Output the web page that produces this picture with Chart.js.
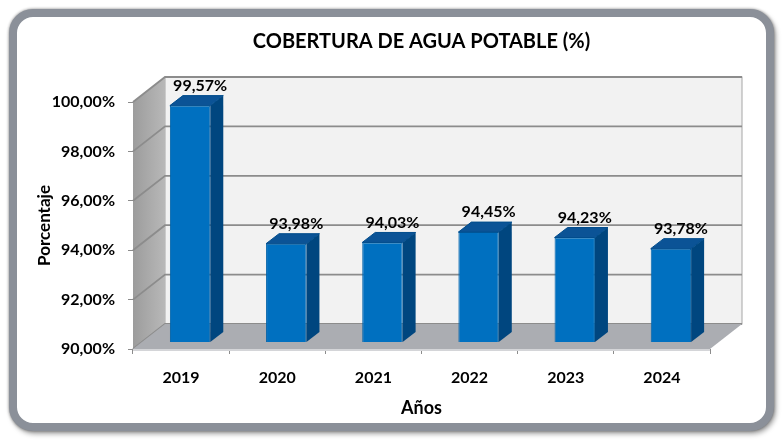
<!DOCTYPE html>
<html>
<head>
<meta charset="utf-8">
<script src="https://cdn.jsdelivr.net/npm/chart.js@4.4.1/dist/chart.umd.min.js"></script>
<style>
    body { margin: 0; background: #fff; }
    #wrap { position: relative; width: 784px; height: 444px; overflow: hidden; }
    #frame {
        position: absolute; left: 9px; top: 9px; width: 749px; height: 406px;
        border: 8px solid #8b9099; border-radius: 24px; background: #fff;
        box-shadow: 0 0 3px rgba(0,0,0,0.45), 2px 3px 5px rgba(0,0,0,0.35);
    }
    #cobertura { position: absolute; left: 0; top: 0; }
</style>
</head>
<body>
<div id="wrap">
    <div id="frame"></div>
    <canvas id="cobertura" width="784" height="444"></canvas>
</div>
<script>
// datos del grafico
const years = ['2019', '2020', '2021', '2022', '2023', '2024'];
const coverage = [99.57, 93.98, 94.03, 94.45, 94.23, 93.78];
const yTicks = [90, 92, 94, 96, 98, 100];

// 3D look (Excel style)
const depthX = 32, depthY = -25;       // back wall offset
const barShiftX = 9, barShiftY = -7;   // bars sit a bit behind the front plane
const barDX = 13, barDY = -10;         // bar depth

function pct(v){
    return v.toFixed(2).replace('.', ',') + '%';
}

const scene3d = {
    id: 'scene3d',
    beforeDatasetsDraw(chart){
        const {ctx, chartArea: a, scales: {y}} = chart;
        ctx.save();
        // back wall
        ctx.fillStyle = '#f2f2f2';
        ctx.fillRect(a.left + depthX, a.top + depthY, a.right - a.left, a.bottom - a.top);
        ctx.strokeStyle = '#a6a6a6';
        ctx.lineWidth = 1;
        ctx.strokeRect(a.left + depthX, a.top + depthY, a.right - a.left, a.bottom - a.top);
        // left wall
        let g = ctx.createLinearGradient(a.left, 0, a.left + depthX, 0);
        g.addColorStop(0, '#9c9c9c');
        g.addColorStop(1, '#b8b8b8');
        ctx.fillStyle = g;
        ctx.beginPath();
        ctx.moveTo(a.left, a.top);
        ctx.lineTo(a.left + depthX, a.top + depthY);
        ctx.lineTo(a.left + depthX, a.bottom + depthY);
        ctx.lineTo(a.left, a.bottom);
        ctx.closePath();
        ctx.fill();
        // grid lines on back and side walls
        ctx.strokeStyle = '#8c8c8c';
        ctx.lineWidth = 1.8;
        yTicks.forEach(function(v){
            let py = y.getPixelForValue(v);
            ctx.beginPath();
            ctx.moveTo(a.left, py);
            ctx.lineTo(a.left + depthX, py + depthY);
            ctx.lineTo(a.right + depthX, py + depthY);
            ctx.stroke();
        });
        // floor
        ctx.fillStyle = '#abadb2';
        ctx.beginPath();
        ctx.moveTo(a.left, a.bottom);
        ctx.lineTo(a.left + depthX, a.bottom + depthY);
        ctx.lineTo(a.right + depthX, a.bottom + depthY);
        ctx.lineTo(a.right, a.bottom);
        ctx.closePath();
        ctx.fill();
        ctx.fillStyle = '#d4d5d8';
        ctx.fillRect(a.left, a.bottom, a.right - a.left, 2);
        ctx.restore();

        // bars are drawn shifted to the back
        ctx.save();
        ctx.translate(barShiftX, barShiftY);
    },
    afterDatasetsDraw(chart){
        const {ctx, chartArea: a} = chart;
        const bars = chart.getDatasetMeta(0).data;
        bars.forEach(function(bar){
            let p = bar.getProps(['x', 'y', 'width'], true);
            let l = p.x - p.width / 2, r = p.x + p.width / 2;
            let b = a.bottom;
            // side
            ctx.fillStyle = '#00467f';
            ctx.beginPath();
            ctx.moveTo(r, p.y);
            ctx.lineTo(r + barDX, p.y + barDY);
            ctx.lineTo(r + barDX, b + barDY);
            ctx.lineTo(r, b);
            ctx.closePath();
            ctx.fill();
            // top
            ctx.fillStyle = '#0b5396';
            ctx.beginPath();
            ctx.moveTo(l, p.y);
            ctx.lineTo(l + barDX, p.y + barDY);
            ctx.lineTo(r + barDX, p.y + barDY);
            ctx.lineTo(r, p.y);
            ctx.closePath();
            ctx.fill();
            ctx.strokeStyle = '#004c8c';
            ctx.lineWidth = 1;
            ctx.stroke();
        });
        ctx.restore();

        // value labels
        ctx.save();
        ctx.font = 'bold 16px Lato';
        ctx.fillStyle = '#000';
        ctx.textAlign = 'center';
        ctx.textBaseline = 'middle';
        bars.forEach(function(bar, i){
            let p = bar.getProps(['x', 'y'], true);
            ctx.fillText(pct(coverage[i]), p.x + barShiftX + 10, p.y + barShiftY + barDY - 10);
        });
        ctx.restore();
    }
};

let config_coverage = {
    type: 'bar',
    data: {
        labels: years,
        datasets: [{
            label: 'Cobertura',
            data: coverage,
            backgroundColor: '#0070c0',
            borderColor: '#0062a8',
            borderWidth: 1,
            categoryPercentage: 1,
            barPercentage: 0.42
        }]
    },
    plugins: [scene3d],
    options: {
        responsive: false,
        animation: false,
        layout: { padding: { left: 0, right: 74, top: 0, bottom: 0 } },
        plugins: {
            legend: { display: false },
            tooltip: { enabled: false },
            title: {
                display: true,
                fullSize: false,
                text: 'COBERTURA DE AGUA POTABLE (%)',
                color: '#000',
                font: { family: 'Lato', size: 20, weight: 'bold', lineHeight: 1.2 },
                padding: { top: 30, bottom: 48 }
            }
        },
        scales: {
            x: {
                afterFit(scale){ scale.height = 95; },
                grid: { drawOnChartArea: false, drawTicks: true, tickLength: 5, color: '#8c8c8c' },
                border: { display: true, color: '#8c8c8c', width: 1 },
                ticks: { color: '#000', padding: 14, font: { family: 'Lato', size: 16, weight: 'bold' } },
                title: {
                    display: true,
                    text: 'Años',
                    color: '#000',
                    font: { family: 'Lato', size: 18, weight: 'bold', lineHeight: 1.2 },
                    padding: { top: 0, bottom: 25 }
                }
            },
            y: {
                min: 90,
                max: 100,
                afterFit(scale){ scale.width = 133; },
                afterBuildTicks(scale){ scale.ticks = yTicks.map(v => ({ value: v })); },
                grid: { drawOnChartArea: false, drawTicks: true, tickLength: 5, color: '#8c8c8c' },
                border: { display: true, color: '#8c8c8c', width: 1 },
                ticks: {
                    color: '#000',
                    padding: 13,
                    font: { family: 'Lato', size: 16, weight: 'bold' },
                    callback: function(v){ return pct(v); }
                },
                title: {
                    display: true,
                    text: 'Porcentaje',
                    color: '#000',
                    font: { family: 'Lato', size: 17, weight: 'bold', lineHeight: 1.2 },
                    padding: { top: 34.8, bottom: 0 }
                }
            }
        }
    }
};

let coverage_chart = new Chart(
    document.getElementById('cobertura'),
    config_coverage
);
</script>
</body>
</html>
